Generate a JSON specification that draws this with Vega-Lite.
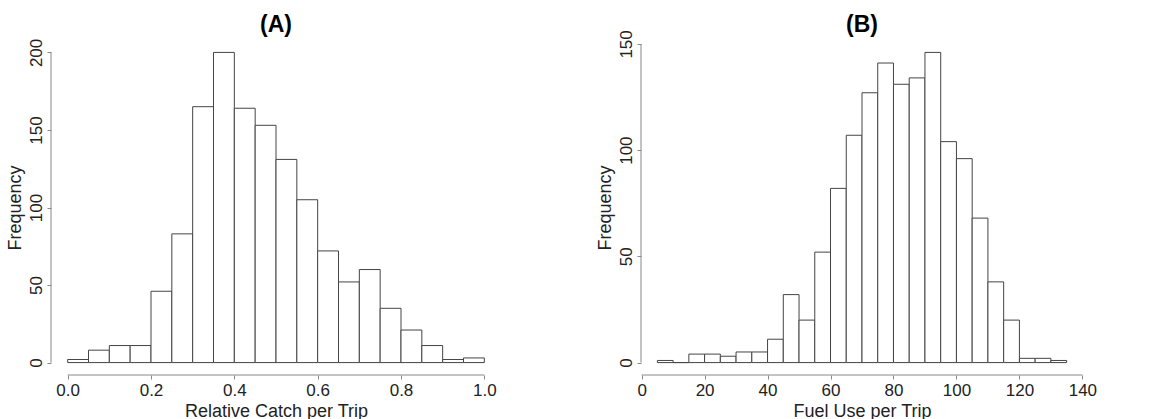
{
  "$schema": "https://vega.github.io/schema/vega-lite/v6.json",
  "background": "white",
  "padding": {"left": 6, "top": 13, "right": 5, "bottom": 0},
  "config": {
    "view": {"stroke": null},
    "font": "Liberation Sans",
    "axis": {
      "grid": false,
      "domain": false,
      "tickColor": "#888888",
      "tickSize": 4,
      "labelFontSize": 17,
      "titleFontSize": 18,
      "labelColor": "#222222",
      "titleColor": "#222222",
      "titleFontWeight": "normal",
      "labelFlush": false,
      "labelOverlap": false
    },
    "title": {"fontSize": 23, "fontWeight": "bold", "color": "#000000", "anchor": "middle", "offset": 4, "frame": "group"},
    "concat": {"spacing": 95}
  },
  "datasets": {
    "catch": [
      {"bin_start": 0.00, "bin_end": 0.05, "count": 2},
      {"bin_start": 0.05, "bin_end": 0.10, "count": 8},
      {"bin_start": 0.10, "bin_end": 0.15, "count": 11},
      {"bin_start": 0.15, "bin_end": 0.20, "count": 11},
      {"bin_start": 0.20, "bin_end": 0.25, "count": 46},
      {"bin_start": 0.25, "bin_end": 0.30, "count": 83},
      {"bin_start": 0.30, "bin_end": 0.35, "count": 165},
      {"bin_start": 0.35, "bin_end": 0.40, "count": 200},
      {"bin_start": 0.40, "bin_end": 0.45, "count": 164},
      {"bin_start": 0.45, "bin_end": 0.50, "count": 153},
      {"bin_start": 0.50, "bin_end": 0.55, "count": 131},
      {"bin_start": 0.55, "bin_end": 0.60, "count": 105},
      {"bin_start": 0.60, "bin_end": 0.65, "count": 72},
      {"bin_start": 0.65, "bin_end": 0.70, "count": 52},
      {"bin_start": 0.70, "bin_end": 0.75, "count": 60},
      {"bin_start": 0.75, "bin_end": 0.80, "count": 35},
      {"bin_start": 0.80, "bin_end": 0.85, "count": 21},
      {"bin_start": 0.85, "bin_end": 0.90, "count": 11},
      {"bin_start": 0.90, "bin_end": 0.95, "count": 2},
      {"bin_start": 0.95, "bin_end": 1.00, "count": 3}
    ],
    "fuel": [
      {"bin_start": 5, "bin_end": 10, "count": 1},
      {"bin_start": 10, "bin_end": 15, "count": 0},
      {"bin_start": 15, "bin_end": 20, "count": 4},
      {"bin_start": 20, "bin_end": 25, "count": 4},
      {"bin_start": 25, "bin_end": 30, "count": 3},
      {"bin_start": 30, "bin_end": 35, "count": 5},
      {"bin_start": 35, "bin_end": 40, "count": 5},
      {"bin_start": 40, "bin_end": 45, "count": 11},
      {"bin_start": 45, "bin_end": 50, "count": 32},
      {"bin_start": 50, "bin_end": 55, "count": 20},
      {"bin_start": 55, "bin_end": 60, "count": 52},
      {"bin_start": 60, "bin_end": 65, "count": 82},
      {"bin_start": 65, "bin_end": 70, "count": 107},
      {"bin_start": 70, "bin_end": 75, "count": 127},
      {"bin_start": 75, "bin_end": 80, "count": 141},
      {"bin_start": 80, "bin_end": 85, "count": 131},
      {"bin_start": 85, "bin_end": 90, "count": 134},
      {"bin_start": 90, "bin_end": 95, "count": 146},
      {"bin_start": 95, "bin_end": 100, "count": 104},
      {"bin_start": 100, "bin_end": 105, "count": 96},
      {"bin_start": 105, "bin_end": 110, "count": 68},
      {"bin_start": 110, "bin_end": 115, "count": 38},
      {"bin_start": 115, "bin_end": 120, "count": 20},
      {"bin_start": 120, "bin_end": 125, "count": 2},
      {"bin_start": 125, "bin_end": 130, "count": 2},
      {"bin_start": 130, "bin_end": 135, "count": 1}
    ]
  },
  "hconcat": [
    {
      "title": {"text": "(A)", "dy": 3},
      "width": 450,
      "height": 335,
      "layer": [
        {
          "data": {"name": "catch"},
          "mark": {"type": "bar", "fill": "white", "stroke": "#444444", "strokeWidth": 1},
          "encoding": {
            "x": {
              "field": "bin_start", "type": "quantitative",
              "scale": {"domain": [-0.04, 1.04], "nice": false, "zero": false},
              "axis": {"title": "Relative Catch per Trip", "values": [0, 0.2, 0.4, 0.6, 0.8, 1.0], "format": ".1f", "labelPadding": 3, "titlePadding": 4}
            },
            "x2": {"field": "bin_end"},
            "y": {
              "field": "count", "type": "quantitative",
              "scale": {"domain": [-8, 208], "nice": false, "zero": false},
              "axis": {"title": "Frequency", "values": [0, 50, 100, 150, 200], "labelAngle": -90, "labelAlign": "center", "labelBaseline": "bottom", "labelPadding": 2, "titlePadding": 3}
            },
            "y2": {"datum": 0}
          }
        },
        {
          "data": {"values": [{"axis": "x"}]},
          "mark": {"type": "rule", "color": "#888888", "strokeWidth": 1},
          "encoding": {
            "x": {"datum": 0, "type": "quantitative"},
            "x2": {"datum": 1},
            "y": {"datum": -8, "type": "quantitative"}
          }
        },
        {
          "data": {"values": [{"axis": "y"}]},
          "mark": {"type": "rule", "color": "#888888", "strokeWidth": 1},
          "encoding": {
            "x": {"datum": -0.04, "type": "quantitative"},
            "y": {"datum": 0, "type": "quantitative"},
            "y2": {"datum": 200}
          }
        }
      ]
    },
    {
      "title": {"text": "(B)", "dy": 11},
      "width": 442,
      "height": 335,
      "layer": [
        {
          "data": {"name": "fuel"},
          "mark": {"type": "bar", "fill": "white", "stroke": "#444444", "strokeWidth": 1},
          "encoding": {
            "x": {
              "field": "bin_start", "type": "quantitative",
              "scale": {"domain": [-0.2, 140.2], "nice": false, "zero": false},
              "axis": {"title": "Fuel Use per Trip", "values": [0, 20, 40, 60, 80, 100, 120, 140], "labelPadding": 3, "titlePadding": 4}
            },
            "x2": {"field": "bin_end"},
            "y": {
              "field": "count", "type": "quantitative",
              "scale": {"domain": [-5.84, 151.84], "nice": false, "zero": false},
              "axis": {"title": "Frequency", "values": [0, 50, 100, 150], "labelAngle": -90, "labelAlign": "center", "labelBaseline": "bottom", "labelPadding": 2, "titlePadding": 3}
            },
            "y2": {"datum": 0}
          }
        },
        {
          "data": {"values": [{"axis": "x"}]},
          "mark": {"type": "rule", "color": "#888888", "strokeWidth": 1},
          "encoding": {
            "x": {"datum": 0, "type": "quantitative"},
            "x2": {"datum": 140},
            "y": {"datum": -5.84, "type": "quantitative"}
          }
        },
        {
          "data": {"values": [{"axis": "y"}]},
          "mark": {"type": "rule", "color": "#888888", "strokeWidth": 1},
          "encoding": {
            "x": {"datum": -0.2, "type": "quantitative"},
            "y": {"datum": 0, "type": "quantitative"},
            "y2": {"datum": 150}
          }
        }
      ]
    }
  ]
}
